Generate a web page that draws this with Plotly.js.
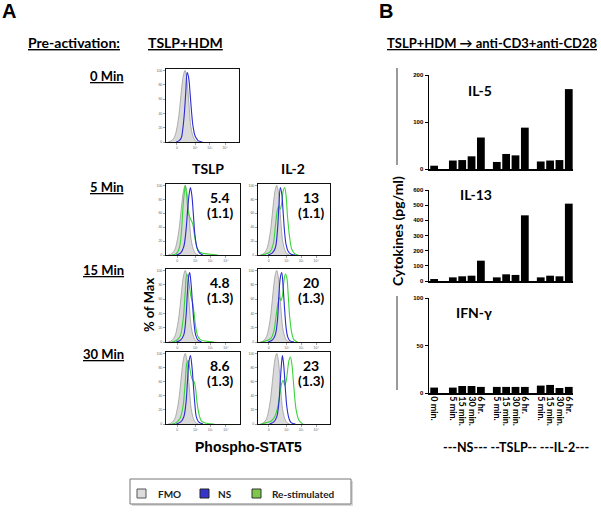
<!DOCTYPE html>
<html><head><meta charset="utf-8">
<script src="https://cdn.plot.ly/plotly-3.0.1.min.js"></script>
<style>html,body{margin:0;padding:0;background:#fff}#chart{width:601px;height:513px}</style>
</head><body><div id="chart"></div>
<script>
// ---------- Panel A: phospho-STAT5 histograms (x: % of axis width, y: % of max) ----------
const fmoX = [3, 8, 12, 15, 18, 20, 22, 24, 26, 28, 30, 32, 34, 37, 40, 44];
const fmoY = [0, 2, 8, 20, 40, 60, 80, 94, 100, 92, 72, 45, 22, 8, 2, 0];

const ns0X = [14, 18, 21, 23, 25, 27, 29, 31, 33, 35, 37, 40, 44, 50];
const ns0Y = [0, 2, 6, 18, 38, 68, 97, 90, 68, 42, 22, 8, 2, 0];

const nsT5X = [14, 20, 24, 27, 29, 31, 33, 35, 37, 39, 42, 45, 50];
const nsT5Y = [0, 3, 12, 35, 62, 85, 97, 85, 58, 30, 10, 3, 0];
const reT5X = [8, 14, 18, 21, 23, 25, 26, 28, 30, 33, 36, 39, 42, 46, 52, 60, 70];
const reT5Y = [0, 2, 10, 35, 70, 92, 100, 85, 62, 52, 45, 25, 10, 4, 2, 1, 0];

const nsI5X = [14, 20, 24, 27, 29, 31, 33, 35, 37, 39, 42, 46, 52];
const nsI5Y = [0, 3, 10, 35, 70, 97, 88, 60, 32, 15, 5, 1, 0];
const reI5X = [5, 12, 17, 21, 24, 27, 29, 31, 33, 35, 37, 39, 41, 44, 47, 51, 56];
const reI5Y = [0, 2, 5, 15, 40, 65, 70, 66, 75, 92, 97, 85, 55, 25, 8, 2, 0];

const nsT15X = [14, 20, 24, 27, 29, 31, 32, 34, 36, 38, 40, 43, 48];
const nsT15Y = [0, 3, 10, 35, 70, 94, 97, 80, 50, 25, 10, 3, 0];
const reT15X = [8, 14, 19, 23, 26, 28, 30, 32, 34, 36, 38, 40, 43, 47, 55, 65];
const reT15Y = [0, 2, 8, 30, 70, 95, 90, 75, 62, 55, 40, 22, 8, 3, 1, 0];

const nsI15X = [14, 20, 24, 27, 29, 31, 33, 35, 37, 39, 41, 44, 50];
const nsI15Y = [0, 3, 10, 30, 65, 90, 97, 75, 45, 20, 8, 2, 0];
const reI15X = [5, 12, 18, 22, 25, 28, 30, 32, 34, 36, 38, 40, 42, 44, 47, 50, 55];
const reI15Y = [0, 2, 5, 15, 35, 55, 62, 58, 65, 85, 95, 90, 65, 35, 12, 3, 0];

const nsT30X = [14, 20, 24, 27, 29, 31, 33, 35, 37, 39, 41, 44, 50];
const nsT30Y = [0, 3, 10, 30, 60, 88, 97, 82, 55, 28, 10, 3, 0];
const reT30X = [8, 14, 19, 23, 26, 28, 30, 32, 34, 36, 38, 40, 42, 45, 48, 55, 65];
const reT30Y = [0, 2, 8, 25, 60, 85, 90, 80, 68, 62, 60, 50, 30, 12, 4, 1, 0];

const nsI30X = [16, 22, 26, 29, 31, 33, 34, 36, 38, 40, 43, 46, 52];
const nsI30Y = [0, 3, 10, 30, 62, 90, 97, 80, 50, 25, 8, 2, 0];
const reI30X = [5, 12, 18, 23, 27, 30, 33, 35, 37, 39, 41, 43, 45, 47, 50, 53, 57, 62];
const reI30Y = [0, 2, 4, 10, 22, 40, 58, 62, 55, 60, 75, 90, 95, 85, 50, 20, 5, 0];

const histTickVals = [15, 40, 60, 81];
const histTickText = ["0", "10²", "10³", "10⁴"];
const pctTicks = [0, 20, 40, 60, 80, 100];

const rowLabels = ["0 Min", "5 Min", "15 Min", "30 Min"];
const colLabels = ["TSLP", "IL-2"];
const mfiMain = ["5.4", "13", "4.8", "20", "8.6", "23"];
const mfiSub = ["(1.1)", "(1.1)", "(1.3)", "(1.3)", "(1.3)", "(1.3)"];

// ---------- Panel B: cytokines (pg/ml) ----------
const timeLabels = ["0 min.", "5 min.", "15 min.", "30 min.", "6 hr.",
                    "5 min.", "15 min.", "30 min.", "6 hr.",
                    "5 min.", "15 min.", "30 min.", "6 hr."];
const groupOf = [-1, 0, 0, 0, 0, 1, 1, 1, 1, 2, 2, 2, 2];   // -1 = unstimulated 0 min
const il5  = [7, 18, 19, 27, 67, 15, 32, 29, 88, 16, 18, 19, 170];
const il13 = [13, 24, 31, 35, 134, 24, 44, 40, 433, 24, 35, 31, 510];
const ifng = [5.7, 5.7, 7.4, 7.4, 6.4, 6.4, 6.4, 6.4, 6.4, 7.8, 8.5, 5.3, 6.4];
const cytoNames = ["IL-5", "IL-13", "IFN-γ"];
const groupLabel = "---NS--- --TSLP-- ---IL-2---";

// ---------- layout helpers ----------
const W = 601, H = 513;
const fx = p => p / W;
const fy = p => 1 - p / H;

// bar x positions from group structure
const barX = groupOf.map((g, i) => {
  if (g < 0) return 0;
  const j = (i - 1) % 4;
  return 2 + g * 4.7 + j;
});

const traces = [];
const layout = {
  width: W, height: H,
  margin: {l: 0, r: 0, t: 0, b: 0},
  paper_bgcolor: "#fff", plot_bgcolor: "#fff",
  showlegend: false,
  font: {family: "Lato, 'Open Sans', sans-serif", color: "#000"},
  annotations: [], shapes: []
};

// histogram panels: [x0,x1,y0,y1] pixel boxes
const boxes = [
  [166, 239, 69, 142],
  [166, 240, 184, 255], [258, 330, 184, 255],
  [166, 240, 269, 342], [258, 330, 269, 342],
  [166, 240, 352, 424], [258, 330, 352, 424]
];
const histSeries = [
  [null, null, ns0X, ns0Y],
  [reT5X, reT5Y, nsT5X, nsT5Y], [reI5X, reI5Y, nsI5X, nsI5Y],
  [reT15X, reT15Y, nsT15X, nsT15Y], [reI15X, reI15Y, nsI15X, nsI15Y],
  [reT30X, reT30Y, nsT30X, nsT30Y], [reI30X, reI30Y, nsI30X, nsI30Y]
];

boxes.forEach((b, k) => {
  const n = k + 1;
  const xa = n === 1 ? "x" : "x" + n, ya = n === 1 ? "y" : "y" + n;
  const xk = n === 1 ? "xaxis" : "xaxis" + n, yk = n === 1 ? "yaxis" : "yaxis" + n;
  layout[xk] = {
    domain: [fx(b[0]), fx(b[1])], anchor: ya, range: [0, 100],
    showline: true, mirror: true, linecolor: "#111", linewidth: 1,
    showgrid: false, zeroline: false, ticks: "outside", ticklen: 2, tickwidth: 0.6,
    tickcolor: "#666", tickvals: histTickVals, ticktext: histTickText,
    tickfont: {size: 3.5, color: "#666", family: "Liberation Sans"}
  };
  layout[yk] = {
    domain: [fy(b[3]), fy(b[2])], anchor: xa, range: [0, 102],
    showline: true, mirror: true, linecolor: "#111", linewidth: 1,
    showgrid: false, zeroline: false, ticks: "outside", ticklen: 2, tickwidth: 0.6,
    tickcolor: "#666", tickvals: pctTicks,
    tickfont: {size: 3.5, color: "#666", family: "Liberation Sans"}
  };
  traces.push({type: "scatter", mode: "lines", x: fmoX, y: fmoY, xaxis: xa, yaxis: ya,
    fill: "tozeroy", fillcolor: "#dadada", line: {color: "#9a9a9a", width: 0.8, shape: "spline"},
    hoverinfo: "skip"});
  const s = histSeries[k];
  if (s[0]) traces.push({type: "scatter", mode: "lines", x: s[0], y: s[1], xaxis: xa, yaxis: ya,
    line: {color: "#3ad43a", width: 1.1, shape: "spline"}, hoverinfo: "skip"});
  traces.push({type: "scatter", mode: "lines", x: s[2], y: s[3], xaxis: xa, yaxis: ya,
    line: {color: "#2a2ad2", width: 1.1, shape: "spline"}, hoverinfo: "skip"});
  if (k > 0) {
    const cx = (b[0] + b[1]) / 2 + 17;
    layout.annotations.push({xref: "paper", yref: "paper", x: fx(cx), y: fy(b[2] + 13),
      text: "<b>" + mfiMain[k - 1] + "</b>", showarrow: false, font: {size: 14},
      borderpad: 0, yanchor: "middle"});
    layout.annotations.push({xref: "paper", yref: "paper", x: fx(cx), y: fy(b[2] + 29),
      text: "<b>" + mfiSub[k - 1] + "</b>", showarrow: false, font: {size: 13.5},
      borderpad: 0, yanchor: "middle"});
  }
});

// bar panels
const barBoxes = [[429, 573, 75, 169], [429, 573, 190, 281], [429, 573, 298, 393]];
const barData = [il5, il13, ifng];
const barRanges = [[0, 200], [0, 600], [0, 100]];
const barDtick = [100, 100, 50];
const barTitleY = [80, 195, 312];
barBoxes.forEach((b, k) => {
  const n = 8 + k;
  const xa = "x" + n, ya = "y" + n;
  layout["xaxis" + n] = {
    domain: [fx(b[0]), fx(b[1])], anchor: ya, range: [-0.55, 14.85],
    showline: true, linecolor: "#000", linewidth: 1.5, showgrid: false, zeroline: false,
    ticks: "", tickvals: barX, ticktext: timeLabels, showticklabels: k === 2,
    tickangle: 90, tickfont: {size: 9, family: "Lato", weight: "bold", color: "#000"}
  };
  layout["yaxis" + n] = {
    domain: [fy(b[3]), fy(b[2])], anchor: xa, range: barRanges[k], dtick: barDtick[k], tick0: 0,
    showline: true, linecolor: "#000", linewidth: 1.5, showgrid: false, zeroline: false,
    ticks: "outside", ticklen: 3, tickwidth: 1, tickcolor: "#000",
    tickfont: {size: 6, family: "Liberation Sans", weight: "bold", color: "#000"}
  };
  traces.push({type: "bar", x: barX, y: barData[k], xaxis: xa, yaxis: ya, width: 0.83,
    marker: {color: "#000", line: {width: 0}}, hoverinfo: "skip"});
  layout.annotations.push({xref: "paper", yref: "paper", x: fx(494), y: fy(barTitleY[k]),
    text: "<b>" + cytoNames[k] + "</b>", showarrow: false, font: {size: 14}});
});

// text annotations
const A = layout.annotations;
const txt = (x, y, t, size, anchor, extra) => A.push(Object.assign({xref: "paper", yref: "paper",
  x: fx(x), y: fy(y), text: t, showarrow: false, font: {size: size}, xanchor: anchor || "center",
  yanchor: "middle"}, extra || {}));

txt(9, 11, "<b>A</b>", 20, "center", {font: {size: 20, family: "Liberation Sans"}});
txt(386, 11, "<b>B</b>", 20, "center", {font: {size: 20, family: "Liberation Sans"}});
txt(26, 43, "<b><u>Pre-activation:</u></b>", 14, "left");
txt(146, 43, "<b><u>TSLP+HDM</u></b>", 14, "left");
txt(385, 43, "<b><u>TSLP+HDM → anti-CD3+anti-CD28</u></b>", 13, "left");
const rowY = [76, 187, 270, 354];
rowLabels.forEach((r, i) => txt(126, rowY[i], "<b><u>" + r + "</u></b>", 13, "right"));
txt(208, 168, "<b>" + colLabels[0] + "</b>", 14);
txt(293, 168, "<b>" + colLabels[1] + "</b>", 14);
txt(149, 305, "<b>% of Max</b>", 13, "center", {textangle: -90});
txt(248, 447, "<b>Phospho-STAT5</b>", 14, "center", {font: {size: 14, family: "Liberation Sans"}});
txt(398, 231, "<b>Cytokines (pg/ml)</b>", 14, "center", {textangle: -90});
txt(516, 447, "<b>" + groupLabel + "</b>", 12.5);

// gray bar beside cytokine axis label
const S = layout.shapes;
const line = (x0, y0, x1, y1, c, w) => S.push({type: "line", xref: "paper", yref: "paper",
  x0: fx(x0), y0: fy(y0), x1: fx(x1), y1: fy(y1), line: {color: c, width: w}});
line(397, 68, 397, 165, "#9a9a9a", 2);
line(397, 296, 397, 390, "#9a9a9a", 2);

// legend box
const rect = (x0, y0, x1, y1, fill, lc, lw) => S.push({type: "rect", xref: "paper", yref: "paper",
  x0: fx(x0), y0: fy(y0), x1: fx(x1), y1: fy(y1), fillcolor: fill, line: {color: lc, width: lw}});
rect(132, 481, 353, 506, "#d8d8d8", "#d8d8d8", 0);
rect(130, 479, 351, 504, "#ffffff", "#777", 1);
rect(137, 489, 146, 498, "#dcdcdc", "#555", 1);
rect(200, 489, 209, 498, "#3535cc", "#222", 1);
rect(252, 489, 261, 498, "#7cc84a", "#333", 1);
txt(156, 494, "<b>FMO</b>", 10, "left", {font: {size: 10, color: "#222"}});
txt(216, 494, "<b>NS</b>", 10, "left", {font: {size: 10, color: "#222"}});
txt(270, 494, "<b>Re-stimulated</b>", 10, "left", {font: {size: 10, color: "#222"}});

Plotly.newPlot("chart", traces, layout, {staticPlot: true, displayModeBar: false});
</script></body></html>
